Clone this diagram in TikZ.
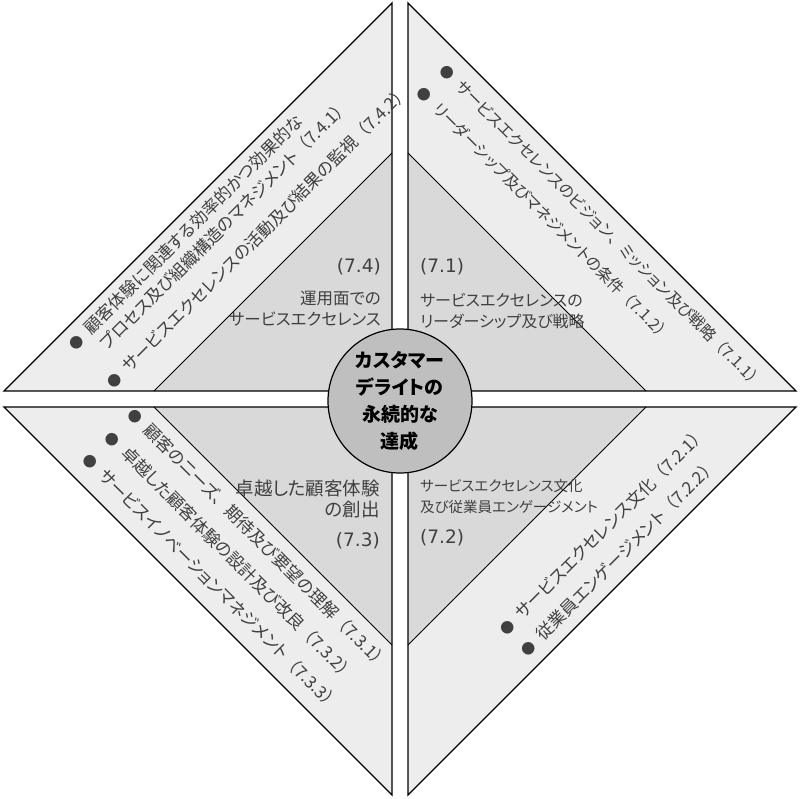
\documentclass[tikz,border=0pt]{standalone}
\usepackage{fontspec}
\setmainfont[RawFeature=+palt]{Noto Sans CJK JP}
\newfontfamily\cjkfull{Noto Sans CJK JP}
\newfontfamily\numfont{DejaVu Sans}
\definecolor{outerfill}{gray}{0.93}
\definecolor{innerfill}{gray}{0.85}
\definecolor{corefill}{gray}{0.75}
\definecolor{textgray}{gray}{0.25}
\newcommand{\bul}{{\fontsize{14}{14}\selectfont ●}}
\newcommand{\clause}[1]{{\cjkfull （}#1{\cjkfull ）}}
\newcommand{\jcomma}{{\cjkfull 、}}

\begin{document}
\begin{tikzpicture}[x=1pt, y=1pt,
    % Shape styles
    outline/.style={draw=black, line width=1.4pt, line join=miter},
    divider/.style={draw=black, line width=0.8pt},
    % Node styles
    core/.style={circle, draw, line width=1.2pt, fill=corefill, minimum size=144pt, inner sep=0pt, align=center, font=\bfseries\fontsize{19}{27}\selectfont},
    areatext/.style={inner sep=0pt, text=textgray, font=\fontsize{#1}{21}\selectfont},
    areanum/.style={inner sep=0pt, text=textgray, font=\numfont\fontsize{18.5}{22}\selectfont},
    items/.style={anchor=base west, inner sep=0pt, text=textgray, font=\fontsize{#1}{22}\selectfont},
]
    \useasboundingbox (-400,-399) rectangle (400,399);

    % Quadrants
    \foreach \sx/\sy in {-1/1, 1/1, -1/-1, 1/-1} {
        \fill[outerfill] ({8*\sx},{8*\sy}) -- ({396*\sx},{8*\sy}) -- ({8*\sx},{396*\sy}) -- cycle;
        \fill[innerfill] ({8*\sx},{8*\sy}) -- ({246*\sx},{8*\sy}) -- ({8*\sx},{246*\sy}) -- cycle;
        \draw[divider] ({246*\sx},{8*\sy}) -- ({8*\sx},{246*\sy});
        \draw[outline] ({8*\sx},{8*\sy}) -- ({396*\sx},{8*\sy}) -- ({8*\sx},{396*\sy}) -- cycle;
    }

    % Centre
    \node[core] (core) at (0,-2) {カスタマー\\デライトの\\永続的な\\達成};

    % Inner labels
    \node[areanum, anchor=east] (num74) at (-19,132) {(7.4)};
    \node[areatext=16.5, anchor=east, align=right] (area74) at (-19,90) {運用面での\\サービスエクセレンス};
    \node[areanum, anchor=west] (num71) at (20,132) {(7.1)};
    \node[areatext=16, anchor=west, align=left] (area71) at (20,88) {サービスエクセレンスの\\リーダーシップ及び戦略};
    \node[areatext=18.5, anchor=east, align=right] (area73) at (-20,-100) {卓越した顧客体験\\の創出};
    \node[areanum, anchor=east] (num73) at (-20,-142) {(7.3)};
    \node[areatext=14.5, anchor=west, align=left] (area72) at (20,-98) {サービスエクセレンス文化\\及び従業員エンゲージメント};
    \node[areanum, anchor=west] (num72) at (20,-139) {(7.2)};

    % Outer items
    \begin{scope}[rotate=45, transform shape]
        \node[items=17] (items74) at (-196,263) {\begin{tabular}[t]{@{}l@{\hspace{9pt}}l@{}}
            \bul & 顧客体験に関連する効率的かつ効果的な\\
                 & プロセス及び組織構造のマネジメント\clause{7.4.1}\\[10pt]
            \bul & サービスエクセレンスの活動及び結果の監視\clause{7.4.2}
        \end{tabular}};
        \node[items=17] (items72) at (-93,-243) {\begin{tabular}[t]{@{}l@{\hspace{9pt}}l@{}}
            \bul & サービスエクセレンス文化\clause{7.2.1}\\[8pt]
            \bul & 従業員エンゲージメント\clause{7.2.2}
        \end{tabular}};
    \end{scope}
    \begin{scope}[rotate=-45, transform shape]
        \node[items=15.8] (items71) at (-205,259) {\begin{tabular}[t]{@{}l@{\hspace{9pt}}l@{}}
            \bul & サービスエクセレンスのビジョン\jcomma ミッション及び戦略\clause{7.1.1}\\[10pt]
            \bul & リーダーシップ及びマネジメントの条件\clause{7.1.2}
        \end{tabular}};
        \node[items=17] (items73) at (-182,-205) {\begin{tabular}[t]{@{}l@{\hspace{9pt}}l@{}}
            \bul & 顧客のニーズ\jcomma 期待及び要望の理解\clause{7.3.1}\\[10pt]
            \bul & 卓越した顧客体験の設計及び改良\clause{7.3.2}\\[10pt]
            \bul & サービスイノベーションマネジメント\clause{7.3.3}
        \end{tabular}};
    \end{scope}
\end{tikzpicture}
\end{document}
